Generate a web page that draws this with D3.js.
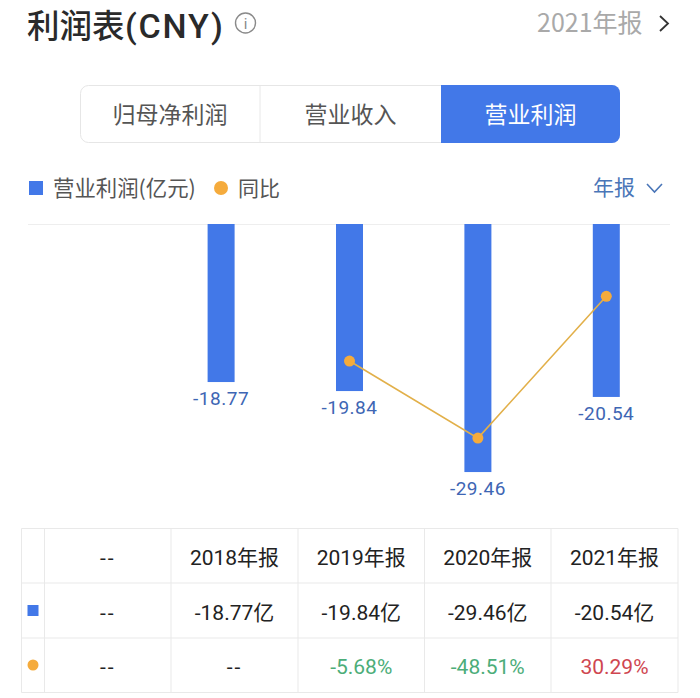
<!DOCTYPE html>
<html><head><meta charset="utf-8">
<script src="https://cdnjs.cloudflare.com/ajax/libs/d3/7.8.5/d3.min.js"></script>
<style>html,body{margin:0;padding:0;background:#fff;overflow:hidden}svg{display:block}
text{font-family:Roboto,"Noto Sans CJK SC",sans-serif}
.cjk{font-family:"Noto Sans CJK SC",sans-serif}</style></head><body>
<svg id="c" width="700" height="698"></svg>
<script>
const categories=["2018年报","2019年报","2020年报","2021年报"];
const profit=[-18.77,-19.84,-29.46,-20.54];
const yoy=[null,-5.68,-48.51,30.29];
const profitCells=["-18.77亿","-19.84亿","-29.46亿","-20.54亿"];
const yoyCells=["--","-5.68%","-48.51%","30.29%"];
const tabs=["归母净利润","营业收入","营业利润"];

const BLUE="#4278e8",ORANGE="#f5ab3c",LINE="#e2b04a",LBL="#3e66b4",BORDER="#e9e9e9",DARK="#222";
const svg=d3.select("#c");
const t=(x,y,s,size,fill,anchor,weight,cls)=>svg.append("text").attr("x",x).attr("y",y).text(s)
  .attr("font-size",size).attr("fill",fill).attr("text-anchor",anchor||"start").attr("font-weight",weight||400).attr("class",cls||null);

// header
t(27,38,"利润表",32.5,"#2a2a2a","start",500,"cjk");
t(125,38,"(CNY)",34,"#2a2a2a","start",500).attr("letter-spacing",1.8);
svg.append("circle").attr("cx",245.5).attr("cy",23).attr("r",10).attr("fill","none").attr("stroke","#8a8a8a").attr("stroke-width",1.4);
t(245.5,29,"i",15,"#8a8a8a","middle",400);
t(537,32,"2021年报",25,"#a9a9a9","start",400,"cjk");
svg.append("path").attr("d","M660 16L668 23.500L660 31").attr("fill","none").attr("stroke","#333").attr("stroke-width",1.8);

// tabs
const tabX=d3.scaleOrdinal().domain(tabs).range([[80,260],[260,441],[441,620]]);
svg.append("rect").attr("x",80.500).attr("y",85.500).attr("width",539).attr("height",57).attr("rx",8).attr("fill","#fff").attr("stroke","#e6e6e6");
svg.append("path").attr("d","M441 85H612a8 8 0 0 1 8 8V135a8 8 0 0 1 -8 8H441Z").attr("fill",BLUE);
svg.append("line").attr("x1",260).attr("x2",260).attr("y1",86).attr("y2",142).attr("stroke","#e8e8e8");
tabs.forEach((d,i)=>{const r=tabX(d);t((r[0]+r[1])/2,123,d,23,i===2?"#fff":"#555","middle",400,"cjk");});

// legend
svg.append("rect").attr("x",29).attr("y",181).attr("width",14).attr("height",14).attr("fill",BLUE);
t(53,196,"营业利润(亿元)",21.4,"#555","start",400,"cjk");
svg.append("circle").attr("cx",221).attr("cy",188).attr("r",7).attr("fill",ORANGE);
t(238,196,"同比",21,"#555","start",400,"cjk");
t(593,195,"年报",21,"#4a76b8","start",400,"cjk");
svg.append("path").attr("d","M647 184L654.500 192L662 184").attr("fill","none").attr("stroke","#4a76b8").attr("stroke-width",1.6);

// chart
const x=d3.scaleBand().domain(["--",...categories]).range([28.5,670.5]);
const yBar=d3.scaleLinear().domain([0,-30]).range([224,476.6]);
const yLine=d3.scaleLinear().domain([-60,40]).range([458.8,278.8]);
svg.append("line").attr("x1",28).attr("x2",670).attr("y1",224.500).attr("y2",224.500).attr("stroke","#eeeeee");
const cx=c=>x(c)+x.bandwidth()/2;
svg.selectAll(".bar").data(profit).join("rect").attr("class","bar")
  .attr("x",(d,i)=>cx(categories[i])-13.5).attr("width",27).attr("y",yBar(0)).attr("height",d=>yBar(d)-yBar(0)).attr("fill",BLUE);
svg.selectAll(".bl").data(profit).join("text").attr("class","bl")
  .attr("x",(d,i)=>cx(categories[i])).attr("y",d=>yBar(d)+23).attr("text-anchor","middle").attr("font-size",19).attr("letter-spacing",0.5).attr("fill",LBL).text(d=>d.toFixed(2));
const pts=yoy.map((v,i)=>({v,c:categories[i]})).filter(d=>d.v!==null);
svg.append("path").datum(pts).attr("d",d3.line().x(d=>cx(d.c)).y(d=>yLine(d.v))).attr("fill","none").attr("stroke",LINE).attr("stroke-width",1.6);
svg.selectAll(".dot").data(pts).join("circle").attr("class","dot").attr("cx",d=>cx(d.c)).attr("cy",d=>yLine(d.v)).attr("r",5.500).attr("fill",ORANGE);

// table
const colEdges=[21.5,44.5,171,298,424.5,551,678];
const rowEdges=[528.5,583,638,692.5];
colEdges.forEach(e=>svg.append("line").attr("x1",e).attr("x2",e).attr("y1",rowEdges[0]).attr("y2",rowEdges[3]).attr("stroke",BORDER));
rowEdges.forEach(e=>svg.append("line").attr("x1",colEdges[0]).attr("x2",colEdges[6]).attr("y1",e).attr("y2",e).attr("stroke",BORDER));
const colC=i=>(colEdges[i]+colEdges[i+1])/2;
const rows=[
 {y:565,cells:["--",...categories]},
 {y:620,cells:["--",...profitCells]},
 {y:674,cells:["--",...yoyCells]}
];
rows.forEach((r,ri)=>r.cells.forEach((s,ci)=>{
  let fill=DARK;
  if(ri===2&&ci>1) fill=s.startsWith("-")?"#4cad79":"#cf4650";
  t(colC(ci+1),r.y,s,21,fill,"middle",400).attr("letter-spacing",s==="--"?2:0);
}));
svg.append("rect").attr("x",27.500).attr("y",605).attr("width",11).attr("height",11).attr("fill",BLUE);
svg.append("circle").attr("cx",33).attr("cy",665).attr("r",5.500).attr("fill",ORANGE);
</script></body></html>
